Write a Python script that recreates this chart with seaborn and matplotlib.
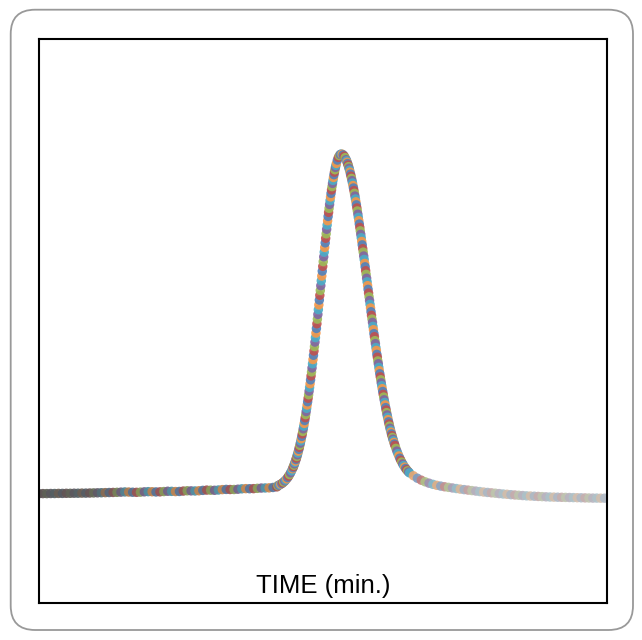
import matplotlib
matplotlib.use("Agg")
from matplotlib import pyplot as plt
from matplotlib.patches import FancyBboxPatch
from matplotlib.colors import to_rgb, to_hex
import seaborn as sns
import pandas as pd
import numpy as np

# detector trace (time in min, signal in mV)
base_time = [
    0.00, 0.04, 0.08, 0.12, 0.16, 0.20, 0.24, 0.28, 0.32, 0.36,
    0.40, 0.44, 0.48, 0.52, 0.56, 0.60, 0.64, 0.68, 0.72, 0.76,
    0.80, 0.84, 0.88, 0.92, 0.96, 1.00, 1.04, 1.08, 1.12, 1.16,
    1.20, 1.24, 1.28, 1.32, 1.36, 1.40, 1.44, 1.48, 1.52, 1.56,
    1.60, 1.64, 1.68, 1.72, 1.76, 1.80, 1.84, 1.88, 1.92, 1.96,
    2.00, 2.04, 2.08, 2.12, 2.16, 2.20, 2.24, 2.28, 2.32, 2.36,
    2.40, 2.44,
]
base_signal = [
    0.6, 0.7, 0.7, 0.8, 0.8, 0.9, 0.9, 1.0, 1.0, 1.1,
    1.1, 1.2, 1.2, 1.3, 1.4, 1.5, 1.6, 1.7, 1.8, 1.9,
    2.0, 2.2, 2.4, 2.3, 2.1, 2.0, 2.2, 2.5, 2.7, 2.6,
    2.4, 2.5, 2.8, 3.1, 3.0, 2.8, 2.9, 3.3, 3.6, 3.5,
    3.4, 3.6, 4.0, 4.3, 4.2, 4.1, 4.4, 4.8, 5.0, 4.9,
    4.9, 5.2, 5.6, 5.8, 5.7, 5.8, 6.1, 6.4, 6.5, 6.6,
    7.0, 7.6,
]

peak_time = [
    2.45, 2.46, 2.47, 2.48, 2.49, 2.50, 2.51, 2.52, 2.53, 2.54,
    2.55, 2.56, 2.57, 2.58, 2.59, 2.60, 2.61, 2.62, 2.63, 2.64,
    2.65, 2.66, 2.67, 2.68, 2.69, 2.70, 2.71, 2.72, 2.73, 2.74,
    2.75, 2.76, 2.77, 2.78, 2.79, 2.80, 2.81, 2.82, 2.83, 2.84,
    2.85, 2.86, 2.87, 2.88, 2.89, 2.90, 2.91, 2.92, 2.93, 2.94,
    2.95, 2.96, 2.97, 2.98, 2.99, 3.00, 3.01, 3.02, 3.03, 3.04,
    3.05, 3.06, 3.07, 3.08, 3.09, 3.10, 3.11, 3.12, 3.13, 3.14,
    3.15, 3.16, 3.17, 3.18, 3.19, 3.20, 3.21, 3.22, 3.23, 3.24,
    3.25, 3.26, 3.27, 3.28, 3.29, 3.30, 3.31, 3.32, 3.33, 3.34,
    3.35, 3.36, 3.37, 3.38, 3.39, 3.40, 3.41, 3.42, 3.43, 3.44,
    3.45, 3.46, 3.47, 3.48, 3.49, 3.50, 3.51, 3.52, 3.53, 3.54,
    3.55, 3.56, 3.57, 3.58, 3.59, 3.60, 3.61, 3.62, 3.63, 3.64,
    3.65, 3.66, 3.67, 3.68, 3.69, 3.70, 3.71, 3.72, 3.73, 3.74,
    3.75, 3.76, 3.77, 3.78, 3.79, 3.80,
]
peak_signal = [
    8.9, 9.3, 9.8, 10.4, 11.0, 11.8, 12.6, 13.6, 14.6, 15.8,
    17.1, 18.6, 20.2, 22.0, 24.0, 26.2, 28.5, 31.2, 34.0, 37.1,
    40.5, 44.2, 48.2, 52.4, 57.0, 61.9, 67.2, 72.7, 78.6, 84.9,
    91.6, 98.5, 105.8, 113.4, 121.4, 129.6, 138.2, 147.0, 156.1, 165.4,
    174.9, 184.5, 194.3, 204.1, 214.0, 223.9, 233.8, 243.6, 253.2, 262.6,
    271.8, 280.6, 289.2, 297.3, 305.0, 312.2, 318.9, 325.0, 330.4, 335.3,
    339.4, 342.8, 345.5, 347.4, 348.6, 349.0, 348.8, 348.1, 346.9, 345.3,
    343.2, 340.6, 337.7, 334.3, 330.5, 326.3, 321.7, 316.7, 311.5, 305.9,
    300.0, 293.7, 287.3, 280.6, 273.7, 266.6, 259.3, 251.9, 244.4, 236.8,
    229.3, 221.6, 214.0, 206.4, 198.7, 191.1, 183.5, 176.3, 168.8, 161.6,
    154.5, 147.5, 140.6, 133.9, 126.8, 120.5, 114.3, 108.3, 102.5, 96.9,
    91.6, 86.4, 81.4, 76.6, 72.1, 67.7, 63.8, 60.1, 56.5, 53.2,
    50.1, 47.1, 44.3, 41.7, 39.3, 37.0, 34.9, 33.0, 31.1, 29.5,
    27.9, 26.5, 25.2, 24.0, 22.9, 21.9,
]

# extra samples on the steep flanks (between the ones above)
rise_time = [
    2.605, 2.615, 2.625, 2.635, 2.645, 2.655, 2.665, 2.675, 2.685, 2.695,
    2.705, 2.715, 2.725, 2.735, 2.745, 2.755, 2.765, 2.775, 2.785, 2.795,
    2.805, 2.815, 2.825, 2.835, 2.845, 2.855, 2.865, 2.875, 2.885, 2.895,
    2.905, 2.915, 2.925, 2.935, 2.945, 2.955, 2.965, 2.975, 2.985, 2.995,
    3.005, 3.015, 3.025, 3.035, 3.045,
]
rise_signal = [
    27.3, 29.8, 32.6, 35.6, 38.8, 42.3, 46.1, 50.2, 54.7, 59.4,
    64.5, 69.9, 75.7, 81.7, 88.2, 95.0, 102.1, 109.6, 117.4, 125.5,
    133.9, 142.6, 151.5, 160.7, 170.1, 179.7, 189.4, 199.2, 209.1, 219.0,
    228.9, 238.7, 248.4, 257.9, 267.2, 276.2, 285.0, 293.3, 301.3, 308.7,
    315.6, 322.0, 327.8, 332.9, 337.4,
]
fall_time = [
    3.155, 3.165, 3.175, 3.185, 3.195, 3.205, 3.215, 3.225, 3.235, 3.245,
    3.255, 3.265, 3.275, 3.285, 3.295, 3.305, 3.315, 3.325, 3.335, 3.345,
    3.355, 3.365, 3.375, 3.385, 3.395, 3.405, 3.415, 3.425, 3.435, 3.445,
    3.455, 3.465, 3.475, 3.485, 3.495, 3.505, 3.515, 3.525, 3.535, 3.545,
    3.555, 3.565, 3.575, 3.585, 3.595, 3.605, 3.615, 3.625, 3.635, 3.645,
]
fall_signal = [
    342.0, 339.2, 336.0, 332.4, 328.4, 324.0, 319.3, 314.2, 308.7, 302.9,
    296.9, 290.6, 284.0, 277.2, 270.2, 263.1, 255.8, 248.4, 240.9, 233.3,
    225.6, 217.9, 210.2, 202.5, 194.8, 187.2, 179.7, 172.2, 164.8, 157.6,
    150.5, 143.5, 136.8, 130.1, 123.6, 117.4, 111.3, 105.4, 99.7, 94.2,
    88.9, 83.8, 79.0, 74.3, 69.9, 65.7, 61.9, 58.3, 54.9, 51.6,
]

tail_time = [
    3.84, 3.88, 3.92, 3.96, 4.00, 4.04, 4.08, 4.12, 4.16, 4.20,
    4.24, 4.28, 4.32, 4.36, 4.40, 4.44, 4.48, 4.52, 4.56, 4.60,
    4.64, 4.68, 4.72, 4.76, 4.80, 4.84, 4.88, 4.92, 4.96, 5.00,
    5.04, 5.08, 5.12, 5.16, 5.20, 5.24, 5.28, 5.32, 5.36, 5.40,
    5.44, 5.48, 5.52, 5.56, 5.60, 5.64, 5.68, 5.72, 5.76, 5.80,
]
tail_signal = [
    19.0, 16.5, 14.5, 12.8, 11.4, 10.2, 9.2, 8.4, 7.7, 7.1,
    6.5, 5.9, 5.3, 4.8, 4.3, 3.8, 3.3, 2.8, 2.3, 1.9,
    1.5, 1.1, 0.7, 0.3, 0.0, -0.4, -0.7, -1.0, -1.3, -1.6,
    -1.8, -2.0, -2.2, -2.4, -2.6, -2.8, -2.9, -3.0, -3.1, -3.2,
    -3.3, -3.4, -3.5, -3.6, -3.7, -3.8, -3.9, -3.9, -4.0, -4.0,
]

x_label = "TIME (min.)"
dot_colors = ["#4F81BD", "#C0504D", "#9BBB59", "#8064A2", "#4BACC6", "#F79646"]

time = base_time + peak_time + rise_time + fall_time + tail_time
signal = base_signal + peak_signal + rise_signal + fall_signal + tail_signal

df = pd.DataFrame({"time": time, "signal": signal})
df = df.sort_values("time").reset_index(drop=True)
df["point"] = [f"p{i}" for i in range(len(df))]


def dot_color(i, t):
    c = np.array(to_rgb(dot_colors[i % len(dot_colors)]))
    if t < 2.45:
        w = np.interp(t, [0.0, 0.5, 1.0, 2.45], [0.9, 0.85, 0.35, 0.25])
        g = np.array(to_rgb("#555555"))
    elif t > 3.8:
        w = np.interp(t, [3.8, 4.5, 5.8], [0.3, 0.75, 0.8])
        g = np.array(to_rgb("#c8c8c8"))
    else:
        w = 0.0
        g = c
    return to_hex((1 - w) * c + w * g)


palette = [dot_color(i, t) for i, t in enumerate(df["time"])]

sns.set_style("white")
fig = plt.figure(figsize=(6.42, 6.40), dpi=100)
ax = fig.add_axes([39 / 642, 37.5 / 640, 567.5 / 642, 563.5 / 640])

sns.scatterplot(
    data=df,
    x="time",
    y="signal",
    hue="point",
    palette=palette,
    legend=False,
    s=46,
    linewidth=0,
    alpha=0.9,
    ax=ax,
)

ax.set_xlim(0, 5.82)
ax.set_ylim(-111, 467)
ax.set_xticks([])
ax.set_yticks([])
ax.set_xlabel("")
ax.set_ylabel("")
for side in ax.spines.values():
    side.set_color("black")
    side.set_linewidth(1.5)

ax.text(0.5, 9.75 / 563.5, x_label, transform=ax.transAxes, ha="center", va="baseline",
        fontsize=18.5, family="Liberation Sans", color="black")

# rounded frame around the whole card
frame = FancyBboxPatch((10.7 / 642, 10 / 640), 622.3 / 642, 620.3 / 640,
                       boxstyle="round,pad=0,rounding_size=0.038",
                       transform=fig.transFigure, fill=False, edgecolor="#999999",
                       linewidth=1.3, clip_on=False)
fig.add_artist(frame)

fig.savefig("out.png", dpi=100, facecolor="white")
